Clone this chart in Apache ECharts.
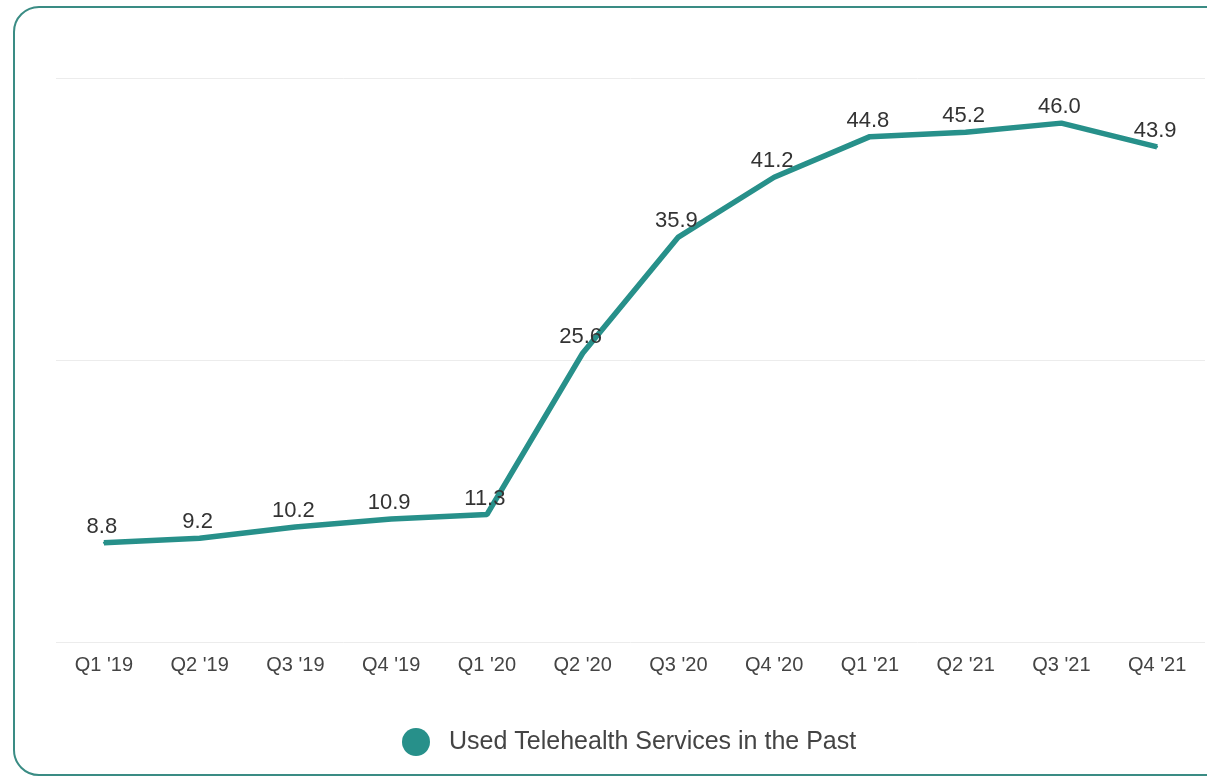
<!DOCTYPE html>
<html>
<head>
<meta charset="utf-8">
<script src="https://cdn.jsdelivr.net/npm/echarts@6/dist/echarts.min.js"></script>
<style>
html,body{margin:0;padding:0;background:#fff;overflow:hidden;}
#frame{position:absolute;left:13px;top:6px;width:1260px;height:770px;border:2px solid #3a8c84;border-radius:26px;box-sizing:border-box;}
#chart{position:absolute;left:0;top:0;width:1207px;height:778px;}
</style>
</head>
<body>
<div id="frame"></div>
<div id="chart"></div>
<script>
const categories = ["Q1 '19","Q2 '19","Q3 '19","Q4 '19","Q1 '20","Q2 '20","Q3 '20","Q4 '20","Q1 '21","Q2 '21","Q3 '21","Q4 '21"];
const seriesName = "Used Telehealth Services in the Past";
const values = [8.8, 9.2, 10.2, 10.9, 11.3, 25.6, 35.9, 41.2, 44.8, 45.2, 46.0, 43.9];

const FONT = 'Liberation Sans, Arial, sans-serif';
const chart = echarts.init(document.getElementById('chart'));
chart.setOption({
  animation: false,
  grid: {left: 56, right: 2, top: 78, bottom: 136},
  legend: {
    show: true,
    left: 397, top: 723,
    icon: 'circle', itemWidth: 28, itemHeight: 28, itemGap: 10,
    textStyle: {fontFamily: FONT, fontSize: 25, color: '#444', padding: [0, 0, 0, 14]},
    data: [seriesName]
  },
  xAxis: {
    type: 'category', data: categories, boundaryGap: true,
    axisLine: {show: false}, axisTick: {show: false},
    axisLabel: {fontFamily: FONT, fontSize: 20, color: '#444', margin: 13}
  },
  yAxis: {
    type: 'value', min: 0, max: 50, interval: 25,
    axisLabel: {show: false}, axisLine: {show: false}, axisTick: {show: false},
    splitLine: {lineStyle: {color: '#ececec', width: 1}}
  },
  series: [{
    name: seriesName, type: 'line', data: values,
    color: '#27908a',
    symbol: 'circle', symbolSize: 2,
    lineStyle: {width: 5.5, color: '#27908a'},
    itemStyle: {color: '#27908a'},
    label: {show: true, position: 'top', distance: 4, offset: [-2, 0],
      formatter: p => p.value.toFixed(1),
      fontFamily: FONT, fontSize: 22, color: '#333'}
  }]
});
</script>
</body>
</html>
